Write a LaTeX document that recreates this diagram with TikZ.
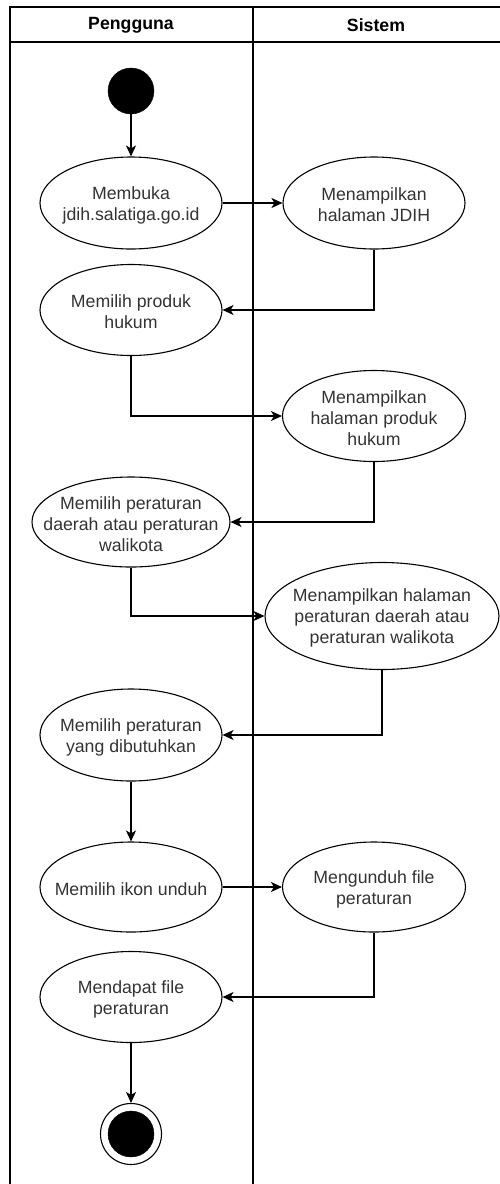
\documentclass[tikz,border=0pt]{standalone}
\usepackage{fontspec}
\setmainfont{Liberation Sans}
\usetikzlibrary{arrows.meta}
\usetikzlibrary{shapes.geometric}
\usetikzlibrary{positioning}
\definecolor{labelgray}{HTML}{333333}
\tikzstyle{activity}=[ellipse,draw=black,line width=1.1pt,inner sep=0pt]
\tikzstyle{activitytext}=[align=center,inner sep=0pt,text=labelgray,font=\fontsize{17.7}{21}\selectfont,yshift=-2pt]
\tikzstyle{startnode}=[circle,fill=black,draw=black,minimum size=46pt,inner sep=0pt]
\tikzstyle{flow} = [draw,line width=1.1pt,-{Stealth[length=11pt,width=10pt,inset=3pt]}]
\tikzstyle{lane} = [draw,line width=1.1pt]
\tikzstyle{header} = [font=\bfseries\fontsize{17.7}{21}\selectfont]

\begin{document}
\begin{tikzpicture}[x=1pt,y=-1pt]
    \useasboundingbox (0,0) rectangle (500,1184);
    % swimlanes: Pengguna and Sistem
    \path[lane] (10,1184) -- (10,7) -- (500,7);
    \path[lane] (10,42) -- (500,42);
    \path[lane] (253,7) -- (253,1184);
    \node[header] (hpengguna) at (131,25) {Pengguna};
    \node[header] (hsistem) at (376,25) {Sistem};

    % initial and final states
    \node[startnode] (start) at (131,91) {};
    \node[circle,draw=black,line width=1.1pt,minimum size=61pt,inner sep=0pt] (finish) at (131,1134) {};
    \node[startnode] (finishdot) at (131,1134) {};

    % activities, lane by lane
    \foreach \pos/\name/\ewidth/\eheight/\label in {
        {(131,203)/e1/182/92/{Membuka\\jdih.salatiga.go.id}},
        {(374,203)/e2/182/92/{Menampilkan\\halaman JDIH}},
        {(131,310)/e3/182/91/{Memilih produk\\hukum}},
        {(374,416)/e4/183/91/{Menampilkan\\halaman produk\\hukum}},
        {(131,522)/e5/198/90/{Memilih peraturan\\daerah atau peraturan\\walikota}},
        {(382,616)/e6/234/107/{Menampilkan halaman\\peraturan daerah atau\\peraturan walikota}},
        {(131,735)/e7/182/92/{Memilih peraturan\\yang dibutuhkan}},
        {(131,887)/e9/182/90/{Memilih ikon unduh}},
        {(374,887)/e8/183/90/{Mengunduh file\\peraturan}},
        {(131,997)/e10/182/91/{Mendapat file\\peraturan}}}
        \node[activity,minimum width=\ewidth pt,minimum height=\eheight pt,
              label={[activitytext]center:{\label}}] (\name) at \pos {};

    % Connect the activities
    \path[flow] (start) -- (e1);
    \path[flow] (e1) -- (e2);
    \path[flow] (e2.south) |- (e3.east);
    \path[flow] (e3.south) |- (e4.west);
    \path[flow] (e4.south) |- (e5.east);
    \path[flow] (e5.south) |- (e6.west);
    \path[flow] (e6.south) |- (e7.east);
    \path[flow] (e7) -- (e9);
    \path[flow] (e9) -- (e8);
    \path[flow] (e8.south) |- (e10.east);
    \path[flow] (e10) -- (finish);
\end{tikzpicture}
\end{document}
